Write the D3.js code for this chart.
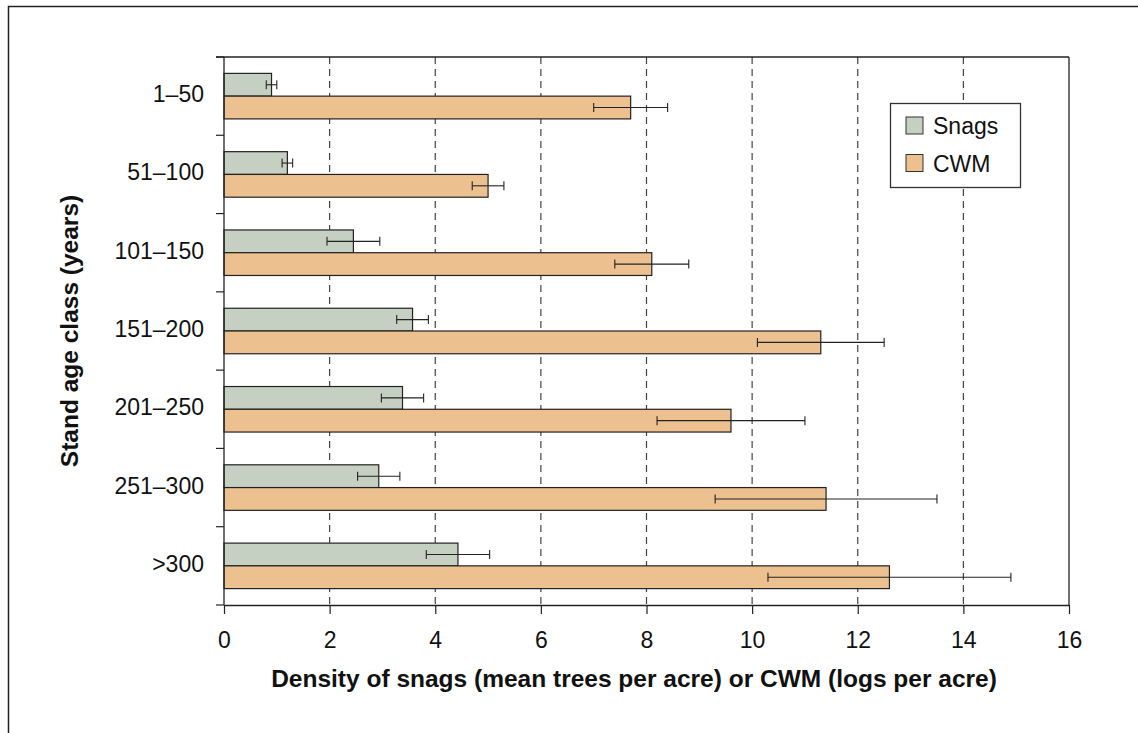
<!DOCTYPE html>
<html>
<head>
<meta charset="utf-8">
<script src="https://cdn.jsdelivr.net/npm/d3@7"></script>
<style>
  html, body { margin: 0; padding: 0; background: #fff; }
  svg { display: block; font-family: "Liberation Sans", Arial, sans-serif; }
</style>
</head>
<body>
<svg id="chart" width="1138" height="733"></svg>
<script>
// Stand age classes and the two measured series
const categories = ["1–50", "51–100", "101–150", "151–200", "201–250", "251–300", ">300"];
const seriesNames = ["Snags", "CWM"];
const snagMeans = [0.9, 1.2, 2.45, 3.57, 3.38, 2.93, 4.43];
const snagErrors = [0.1, 0.1, 0.5, 0.3, 0.4, 0.4, 0.6];
const cwmMeans = [7.7, 5.0, 8.1, 11.3, 9.6, 11.4, 12.6];
const cwmErrors = [0.7, 0.3, 0.7, 1.2, 1.4, 2.1, 2.3];
const xTicks = [0, 2, 4, 6, 8, 10, 12, 14, 16];

const colors = { Snags: "#c5d0c3", CWM: "#ecc18f" };

const svg = d3.select("#chart");

// outer frame
svg.append("rect")
  .attr("x", 8.5).attr("y", 6.5)
  .attr("width", 1200).attr("height", 800)
  .attr("fill", "none").attr("stroke", "#222").attr("stroke-width", 1.5);

const plot = { left: 224, right: 1069, top: 57, bottom: 605 };

const x = d3.scaleLinear().domain([0, 16]).range([plot.left, plot.right]);
const y = d3.scaleBand().domain(categories).range([plot.top, plot.bottom]).padding(0);
const inner = d3.scaleBand().domain(seriesNames).range([0, y.bandwidth()])
  .paddingInner(0).paddingOuter(0.72);

// dashed vertical gridlines
svg.append("g").selectAll("line")
  .data(xTicks.filter(t => t > 0 && t < 16))
  .join("line")
  .attr("x1", d => x(d)).attr("x2", d => x(d))
  .attr("y1", plot.top).attr("y2", plot.bottom)
  .attr("stroke", "#444").attr("stroke-width", 1.2)
  .attr("stroke-dasharray", "7,5");

// rows of data
const rows = categories.map((c, i) => ({
  cat: c,
  bars: [
    { name: "Snags", value: snagMeans[i], err: snagErrors[i] },
    { name: "CWM", value: cwmMeans[i], err: cwmErrors[i] }
  ]
}));

const groups = svg.append("g").selectAll("g")
  .data(rows).join("g")
  .attr("transform", d => `translate(0,${y(d.cat)})`);

groups.selectAll("rect")
  .data(d => d.bars).join("rect")
  .attr("x", x(0))
  .attr("y", d => inner(d.name))
  .attr("width", d => x(d.value) - x(0))
  .attr("height", inner.bandwidth())
  .attr("fill", d => colors[d.name])
  .attr("stroke", "#222").attr("stroke-width", 1.2);

// error bars
const eb = groups.selectAll("g.err")
  .data(d => d.bars).join("g").attr("class", "err")
  .attr("transform", d => `translate(0,${inner(d.name) + inner.bandwidth() / 2})`);
eb.append("line")
  .attr("x1", d => x(d.value - d.err)).attr("x2", d => x(d.value + d.err))
  .attr("y1", 0).attr("y2", 0)
  .attr("stroke", "#222").attr("stroke-width", 1.1);
eb.selectAll("line.cap")
  .data(d => [d.value - d.err, d.value + d.err]).join("line").attr("class", "cap")
  .attr("x1", d => x(d)).attr("x2", d => x(d))
  .attr("y1", -4.5).attr("y2", 4.5)
  .attr("stroke", "#222").attr("stroke-width", 1.1);

// frame: top and right edges of the plot
svg.append("line")
  .attr("x1", plot.left - 8).attr("x2", plot.right)
  .attr("y1", plot.top).attr("y2", plot.top)
  .attr("stroke", "#222").attr("stroke-width", 1.3);
svg.append("line")
  .attr("x1", plot.right).attr("x2", plot.right)
  .attr("y1", plot.top).attr("y2", plot.bottom)
  .attr("stroke", "#222").attr("stroke-width", 1.3);

// bottom axis
const xAxis = svg.append("g")
  .attr("transform", `translate(0,${plot.bottom})`)
  .call(d3.axisBottom(x).tickValues(xTicks).tickSize(9).tickPadding(18).tickSizeOuter(0));
xAxis.select(".domain").attr("stroke", "#222").attr("stroke-width", 1.3);
xAxis.selectAll(".tick line").attr("stroke", "#222").attr("stroke-width", 1.2);
xAxis.selectAll(".tick text")
  .attr("font-size", 23).attr("fill", "#111")
  .attr("font-family", "'Liberation Sans', Arial, sans-serif");

// left axis: ticks at class boundaries, labels at class centres
const yAxis = svg.append("g");
yAxis.append("line")
  .attr("x1", plot.left).attr("x2", plot.left)
  .attr("y1", plot.top).attr("y2", plot.bottom)
  .attr("stroke", "#222").attr("stroke-width", 1.3);
const bounds = categories.map(c => y(c)).concat([y(categories[categories.length - 1]) + y.bandwidth()]);
yAxis.selectAll("line.tick")
  .data(bounds).join("line").attr("class", "tick")
  .attr("x1", plot.left - 8).attr("x2", plot.left)
  .attr("y1", d => d).attr("y2", d => d)
  .attr("stroke", "#222").attr("stroke-width", 1.2);
yAxis.selectAll("text")
  .data(categories).join("text")
  .attr("x", plot.left - 20)
  .attr("y", d => y(d) + y.bandwidth() / 2 - 2)
  .attr("dy", "0.35em")
  .attr("text-anchor", "end")
  .attr("font-size", 23).attr("fill", "#111")
  .text(d => d);

// axis titles
svg.append("text")
  .attr("x", 634).attr("y", 687)
  .attr("text-anchor", "middle")
  .attr("font-size", 24.5).attr("font-weight", "bold").attr("fill", "#111")
  .text("Density of snags (mean trees per acre) or CWM (logs per acre)");

svg.append("text")
  .attr("transform", `translate(78,${(plot.top + plot.bottom) / 2}) rotate(-90)`)
  .attr("text-anchor", "middle")
  .attr("font-size", 24.5).attr("font-weight", "bold").attr("fill", "#111")
  .text("Stand age class (years)");

// legend
const legend = svg.append("g").attr("transform", "translate(890,103)");
legend.append("rect")
  .attr("x", 0.5).attr("y", 0.5).attr("width", 130).attr("height", 84)
  .attr("fill", "#fff").attr("stroke", "#333").attr("stroke-width", 1.3);
seriesNames.forEach((name, i) => {
  const g = legend.append("g").attr("transform", `translate(16,${14 + i * 37.5})`);
  g.append("rect")
    .attr("width", 17).attr("height", 17)
    .attr("fill", colors[name]).attr("stroke", "#333").attr("stroke-width", 1);
  g.append("text")
    .attr("x", 27).attr("y", 17)
    .attr("font-size", 23).attr("fill", "#111")
    .text(name);
});
</script>
</body>
</html>
